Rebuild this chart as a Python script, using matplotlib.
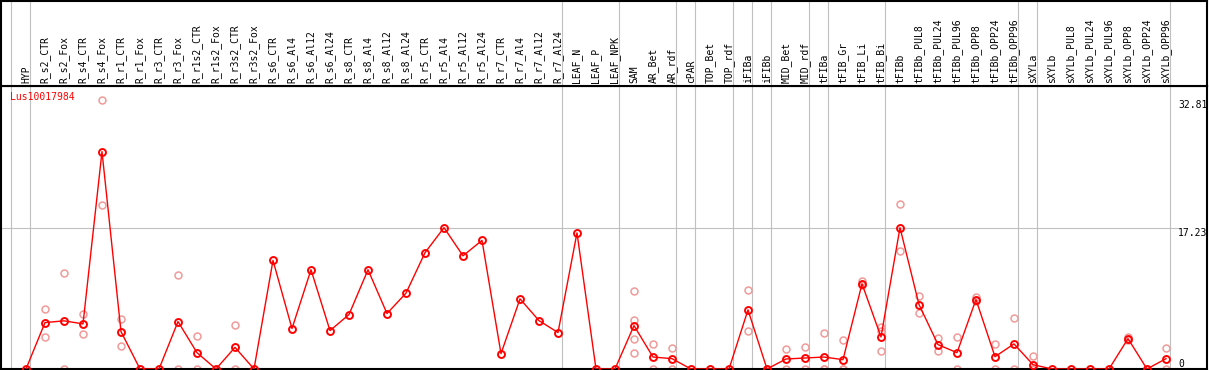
import matplotlib.pyplot as plt
import matplotlib.transforms as mtransforms

# sample names (one column each)
samples = ['HYP', 'R_s2_CTR', 'R_s2_Fox', 'R_s4_CTR', 'R_s4_Fox', 'R_r1_CTR', 'R_r1_Fox',
           'R_r3_CTR', 'R_r3_Fox', 'R_r1s2_CTR', 'R_r1s2_Fox', 'R_r3s2_CTR', 'R_r3s2_Fox',
           'R_s6_CTR', 'R_s6_Al4', 'R_s6_Al12', 'R_s6_Al24', 'R_s8_CTR', 'R_s8_Al4',
           'R_s8_Al12', 'R_s8_Al24', 'R_r5_CTR', 'R_r5_Al4', 'R_r5_Al12', 'R_r5_Al24',
           'R_r7_CTR', 'R_r7_Al4', 'R_r7_Al12', 'R_r7_Al24', 'LEAF_N', 'LEAF_P', 'LEAF_NPK',
           'SAM', 'AR_Bet', 'AR_rdf', 'cPAR', 'TOP_Bet', 'TOP_rdf', 'iFIBa', 'iFIBb',
           'MID_Bet', 'MID_rdf', 'tFIBa', 'tFIB_Gr', 'tFIB_Li', 'tFIB_Bi', 'tFIBb',
           'tFIBb_PUL8', 'tFIBb_PUL24', 'tFIBb_PUL96', 'tFIBb_OPP8', 'tFIBb_OPP24',
           'tFIBb_OPP96', 'sXYLa', 'sXYLb', 'sXYLb_PUL8', 'sXYLb_PUL24', 'sXYLb_PUL96',
           'sXYLb_OPP8', 'sXYLb_OPP24', 'sXYLb_OPP96']

# mean expression (red line)
mean_vals = [0, 5.66, 5.87, 5.5, 26.5, 4.56, 0, 0, 5.78, 1.99, 0, 2.64, 0,
             13.24, 4.93, 12.1, 4.68, 6.64, 12.1, 6.76, 9.25, 14.18, 17.23, 13.8, 15.68,
             1.87, 8.55, 5.9, 4.44, 16.6, 0, 0,
             5.29, 1.46, 1.26, 0, 0, 0, 7.21, 0, 1.22, 1.34, 1.46, 1.14, 10.39, 3.91,
             17.23, 7.86, 2.97, 1.99, 8.47, 1.5, 3.06, 0.53,
             0, 0, 0, 0, 3.7, 0, 1.26]

# replicate values (pale circles)
rep_vals = [[], [7.37, 3.91], [11.74, 0], [6.72, 4.28], [32.81, 19.96], [6.11, 2.81], [], [],
            [11.49, 0], [4.07, 0], [], [5.42, 0], [],
            [], [], [], [], [], [], [], [], [], [], [], [], [], [], [], [], [], [], [],
            [9.55, 6.0, 3.66, 1.95], [3.05, 0], [2.56, 0], [], [], [], [9.67, 4.63], [],
            [2.44, 0], [2.72, 0], [4.39, 0, 0], [3.54, 0, 0], [10.77, 10.28],
            [5.07, 4.67, 2.23], [20.1, 14.4], [8.85, 6.78], [3.78, 2.15], [3.9, 0],
            [8.73, 8.33], [3.05, 0], [6.22, 0], [1.6, 0, 0],
            [], [], [], [], [3.9, 3.57], [], [2.56, 0]]

group_starts = [0, 1, 29, 32, 35, 36, 38, 39, 40, 42, 43, 46, 53, 54, 61]
gene = 'Lus10017984'
y_marks = [32.81, 17.23, 0]

plt.rcParams['font.family'] = 'DejaVu Sans Mono'
plt.rcParams['font.size'] = 7

W, H = 1209, 370
fig = plt.figure(figsize=(W / 100, H / 100), dpi=100)


def px_axes(x0, y0, x1, y1):
    return fig.add_axes([x0 / W, 1 - y1 / H, (x1 - x0) / W, (y1 - y0) / H])


ax = px_axes(1, 86, 1207, 369)
hd = px_axes(1, 1, 1207, 86)

# column i sits at pixel 26 + 19*i
xmin, xmax = -25 / 19, (1207 - 26) / 19
for a in (ax, hd):
    a.set_xlim(xmin, xmax)
    a.set_xticks([])
    a.set_yticks([])
    for s in a.spines.values():
        s.set_linewidth(1.5)
        s.set_color('black')
ax.set_ylim(0, 34.5)
hd.set_ylim(0, 1)

# group separators
for g in group_starts:
    for a in (ax, hd):
        a.axvline(g - 15 / 19, color='#c0c0c0', lw=0.8, zorder=0)
ax.axhline(17.23, xmax=(1178 - 1) / 1206, color='#c0c0c0', lw=0.8, zorder=0)

# sample labels
trans = mtransforms.blended_transform_factory(hd.transData, hd.transAxes)
for i, name in enumerate(samples):
    hd.text(i, 0.035, name, rotation=90, ha='center', va='bottom', transform=trans)

# replicates
rx, ry = [], []
for i, reps in enumerate(rep_vals):
    for v in reps:
        rx.append(i)
        ry.append(v)
ax.plot(rx, ry, ls='none', marker='o', mfc='none', mec='#f09a9a', ms=5, mew=1.1, zorder=2)

ax.plot(range(len(samples)), mean_vals, color='red', lw=1, marker='o', mfc='none',
        mec='red', ms=5, mew=1.4, zorder=3)

# value labels on the right
lab_x = (1178 - 26) / 19
for v in y_marks:
    ax.text(lab_x, v, f'{v:g}' if v == 0 else f'{v:.2f}', ha='left',
            va='bottom' if v == 0 else 'top', color='black')

ax.text(0.0075, 0.96, gene, transform=ax.transAxes, color='red', ha='left', va='center')

fig.savefig('out.png', dpi=100)
